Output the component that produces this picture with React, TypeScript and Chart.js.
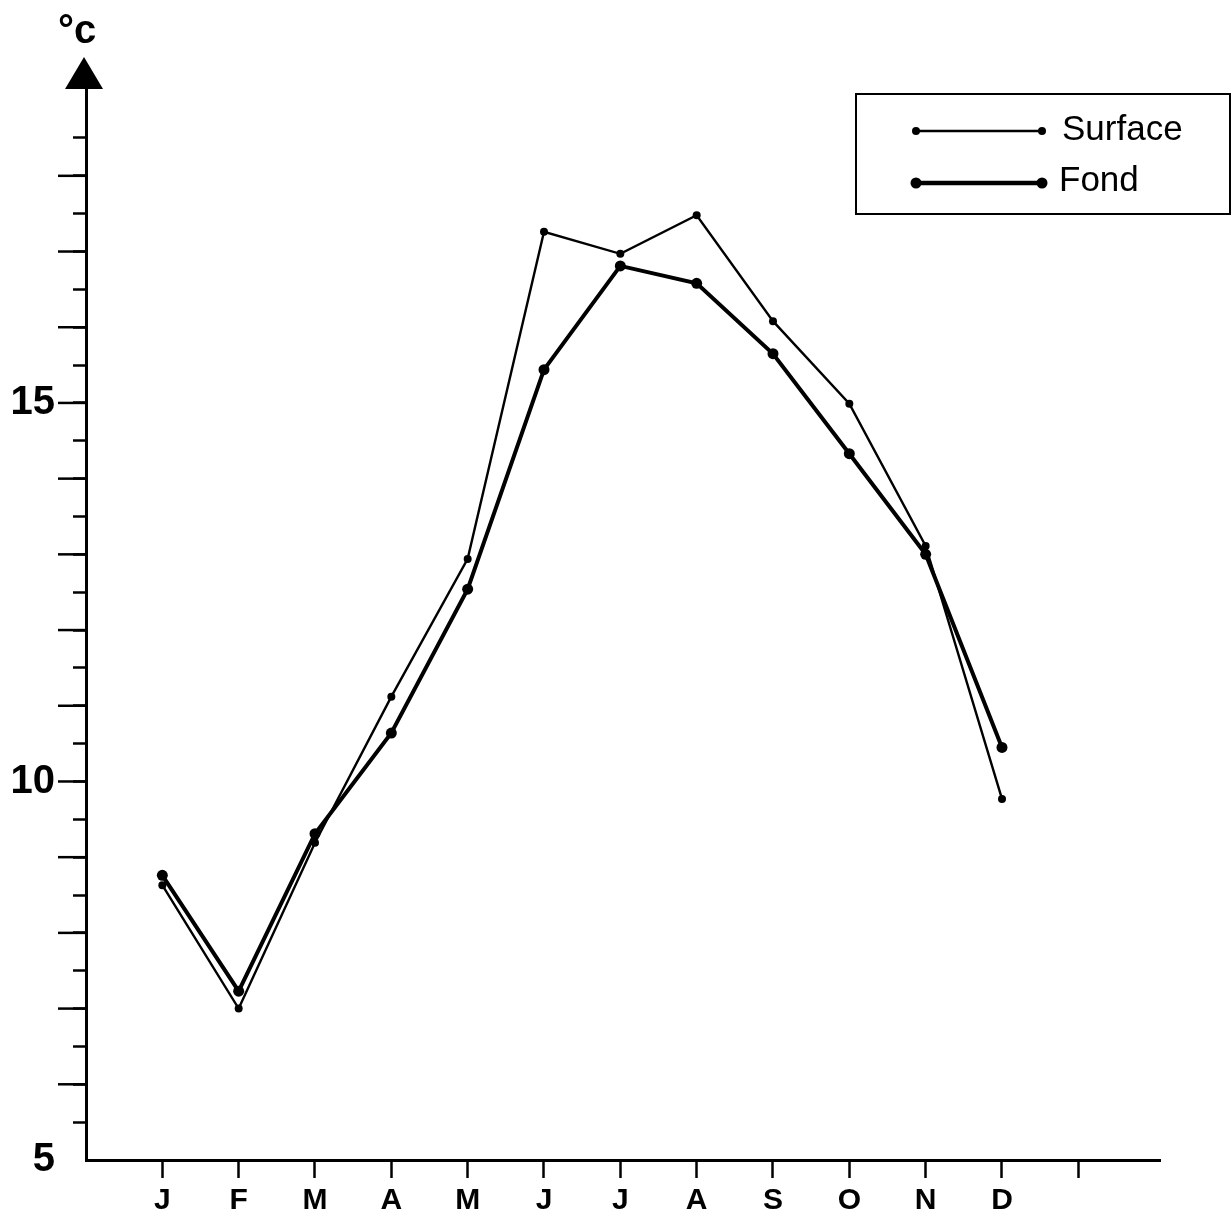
import React, { useEffect, useRef } from "react";
import { Chart, registerables } from "chart.js";

Chart.register(...registerables);

const MONTHS = ["J", "F", "M", "A", "M", "J", "J", "A", "S", "O", "N", "D"];
const SURFACE = [8.63, 7.0, 9.19, 11.12, 12.94, 17.26, 16.97, 17.48, 16.08, 14.99, 13.11, 9.77];
const FOND = [8.76, 7.23, 9.31, 10.64, 12.54, 15.44, 16.81, 16.58, 15.65, 14.33, 13.0, 10.45];
const Y_LABELS = [5, 10, 15];
const UNIT = "°c";
const SERIES_NAMES = ["Surface", "Fond"];

const FONT = "'Liberation Sans', Arial, Helvetica, sans-serif";

const decorPlugin = {
  id: "decor",
  afterDraw(chart: any) {
    const ctx = chart.ctx;
    const area = chart.chartArea;
    const y = chart.scales.y;
    ctx.save();
    ctx.fillStyle = "#000";
    ctx.strokeStyle = "#000";
    // long ticks at integer values
    ctx.lineWidth = 2.5;
    for (let v = 6; v <= 18; v++) {
      const py = y.getPixelForValue(v);
      ctx.beginPath();
      ctx.moveTo(area.left - 28, py);
      ctx.lineTo(area.left, py);
      ctx.stroke();
    }
    // arrow head
    ctx.beginPath();
    ctx.moveTo(area.left - 2, 57);
    ctx.lineTo(area.left - 21, 89);
    ctx.lineTo(area.left + 17, 89);
    ctx.closePath();
    ctx.fill();
    // unit
    ctx.font = `bold 40px ${FONT}`;
    ctx.textBaseline = "alphabetic";
    ctx.textAlign = "left";
    ctx.fillText(UNIT, 58, 43);
    // legend box
    ctx.lineWidth = 2;
    ctx.strokeRect(856, 94, 374, 120);
    const rows = [
      { name: SERIES_NAMES[0], y: 131, lw: 2.5, r: 4, tx: 1062, ty: 140 },
      { name: SERIES_NAMES[1], y: 183, lw: 4.5, r: 5.5, tx: 1059, ty: 191 },
    ];
    ctx.font = `35px ${FONT}`;
    for (const row of rows) {
      ctx.lineWidth = row.lw;
      ctx.beginPath();
      ctx.moveTo(916, row.y);
      ctx.lineTo(1042, row.y);
      ctx.stroke();
      for (const px of [916, 1042]) {
        ctx.beginPath();
        ctx.arc(px, row.y, row.r, 0, Math.PI * 2);
        ctx.fill();
      }
      ctx.fillText(row.name, row.tx, row.ty);
    }
    ctx.restore();
  },
};

export default function App() {
  const ref = useRef<HTMLCanvasElement | null>(null);

  useEffect(() => {
    if (!ref.current) return;
    const chart = new Chart(ref.current, {
      type: "line",
      data: {
        datasets: [
          {
            label: SERIES_NAMES[0],
            data: SURFACE.map((v, i) => ({ x: i, y: v })),
            borderColor: "#000",
            backgroundColor: "#000",
            borderWidth: 2.4,
            pointRadius: 4,
            pointBackgroundColor: "#000",
            pointBorderWidth: 0,
            tension: 0,
          },
          {
            label: SERIES_NAMES[1],
            data: FOND.map((v, i) => ({ x: i, y: v })),
            borderColor: "#000",
            backgroundColor: "#000",
            borderWidth: 4,
            pointRadius: 5.5,
            pointBackgroundColor: "#000",
            pointBorderWidth: 0,
            tension: 0,
          },
        ],
      },
      options: {
        responsive: false,
        maintainAspectRatio: false,
        devicePixelRatio: 1,
        animation: false,
        layout: {
          autoPadding: false,
          padding: { top: 88, right: 72, bottom: 0, left: 0 },
        },
        plugins: {
          legend: { display: false },
          tooltip: { enabled: false },
        },
        scales: {
          x: {
            type: "linear",
            min: -1,
            max: 13.07,
            afterFit: (s: any) => {
              s.height = 56;
            },
            border: { display: true, color: "#000", width: 3 },
            grid: {
              drawOnChartArea: false,
              drawTicks: true,
              tickLength: 18,
              tickWidth: 2.5,
              tickColor: (c: any) => {
                const v = c.tick ? c.tick.value : -5;
                return v >= 0 && v <= 12.5 && Math.abs(v - Math.round(v)) < 1e-6 ? "#000" : "rgba(0,0,0,0)";
              },
            },
            ticks: {
              stepSize: 1,
              autoSkip: false,
              maxRotation: 0,
              padding: 5,
              color: "#000",
              font: { family: FONT, size: 30, weight: "bold" },
              callback: (v: any) => {
                const n = Number(v);
                const i = Math.round(n);
                if (Math.abs(n - i) > 1e-6) return "";
                return MONTHS[i] ?? "";
              },
            },
          },
          y: {
            type: "linear",
            min: 5,
            max: 19.16,
            afterFit: (s: any) => {
              s.width = 86;
            },
            border: { display: true, color: "#000", width: 3 },
            grid: {
              drawOnChartArea: false,
              drawTicks: true,
              tickLength: 13,
              tickWidth: 2.5,
              tickColor: (c: any) => {
                const v = c.tick ? c.tick.value : 0;
                return v > 5.2 && v < 18.7 ? "#000" : "rgba(0,0,0,0)";
              },
            },
            ticks: {
              stepSize: 0.5,
              autoSkip: false,
              padding: 18,
              color: "#000",
              font: { family: FONT, size: 40, weight: "bold" },
              callback: (v: any) => {
                const n = Number(v);
                return Y_LABELS.some((l) => Math.abs(l - n) < 1e-6) ? String(Math.round(n)) : "";
              },
            },
          },
        },
      },
      plugins: [decorPlugin],
    } as any);
    return () => chart.destroy();
  }, []);

  return (
    <div style={{ position: "absolute", left: 0, top: 0, width: 1232, height: 1216, background: "#fff" }}>
      <canvas ref={ref} width={1232} height={1216} style={{ display: "block", width: 1232, height: 1216 }} />
    </div>
  );
}
